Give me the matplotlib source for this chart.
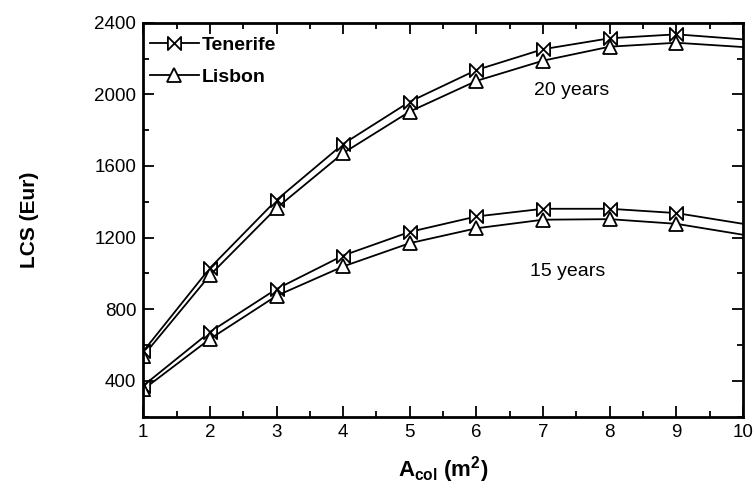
import matplotlib
matplotlib.use("Agg")
import matplotlib.pyplot as plt
from matplotlib.path import Path
from matplotlib.ticker import MultipleLocator

plt.rcParams['font.family'] = ['Liberation Sans', 'DejaVu Sans']
plt.rcParams['mathtext.fontset'] = 'custom'
plt.rcParams['mathtext.rm'] = 'Liberation Sans'
plt.rcParams['mathtext.bf'] = 'Liberation Sans:bold'
plt.rcParams['mathtext.it'] = 'Liberation Sans:italic'

# Data
a_col = [1, 2, 3, 4, 5, 6, 7, 8, 9, 10]
tenerife_20 = [565, 1030, 1410, 1723, 1959, 2136, 2252, 2313, 2335, 2307]
lisbon_20 = [540, 990, 1365, 1672, 1904, 2075, 2188, 2266, 2288, 2264]
tenerife_15 = [373, 673, 913, 1100, 1232, 1318, 1361, 1361, 1337, 1277]
lisbon_15 = [352, 634, 875, 1039, 1169, 1252, 1300, 1303, 1277, 1216]

bowtie = Path([(-1, -1), (1, 1), (1, -1), (-1, 1), (-1, -1)],
              [Path.MOVETO, Path.LINETO, Path.LINETO, Path.LINETO, Path.CLOSEPOLY])

fig = plt.figure(figsize=(7.54, 4.88), dpi=100)
ax = fig.add_axes([0.19, 0.1461, 0.7954, 0.8074])

common = dict(color='black', lw=1.3, markerfacecolor='white',
              markeredgecolor='black', markeredgewidth=1.3,
              markevery=slice(1, 9))

series = [(tenerife_20, bowtie, 'Tenerife'), (lisbon_20, '^', 'Lisbon'),
          (tenerife_15, bowtie, None), (lisbon_15, '^', None)]
for vals, mk, lab in series:
    ax.plot(a_col, vals, marker=mk, markersize=9.5, label=lab, **common)
    # first point marker (half clipped by the axis edge)
    ax.scatter(a_col[:1], vals[:1], marker=mk, s=9.5 ** 2, facecolor='white',
               edgecolor='black', linewidths=1.3, zorder=3, clip_on=True)

ax.set_xlim(1, 10)
ax.set_ylim(200, 2400)
ax.xaxis.set_major_locator(MultipleLocator(1))
ax.xaxis.set_minor_locator(MultipleLocator(0.5))
ax.yaxis.set_minor_locator(MultipleLocator(200))
ax.set_yticks([400, 800, 1200, 1600, 2000, 2400])

ax.tick_params(which='both', direction='in', top=True, right=True,
               labelsize=13.5, width=1.3, pad=5)
ax.tick_params(which='major', length=8)
ax.tick_params(which='minor', length=4)
for s in ax.spines.values():
    s.set_linewidth(2)
    s.set_zorder(5)

ax.set_ylabel('LCS (Eur)', fontsize=15, fontweight='bold', labelpad=40)
ax.set_xlabel(r'$\mathbf{A_{col}}$ $\mathbf{(m^{2})}$', fontsize=16, labelpad=10)

ax.text(7.43, 2020, '20 years', fontsize=14, ha='center', va='center')
ax.text(7.37, 1010, '15 years', fontsize=14, ha='center', va='center')

leg = ax.legend(loc='upper left', frameon=False, prop={'weight': 'bold', 'size': 14},
                handlelength=2.55, handletextpad=0.15, labelspacing=0.75,
                borderaxespad=0.3, bbox_to_anchor=(-0.012, 1.0))

fig.savefig('out.png', dpi=100)
